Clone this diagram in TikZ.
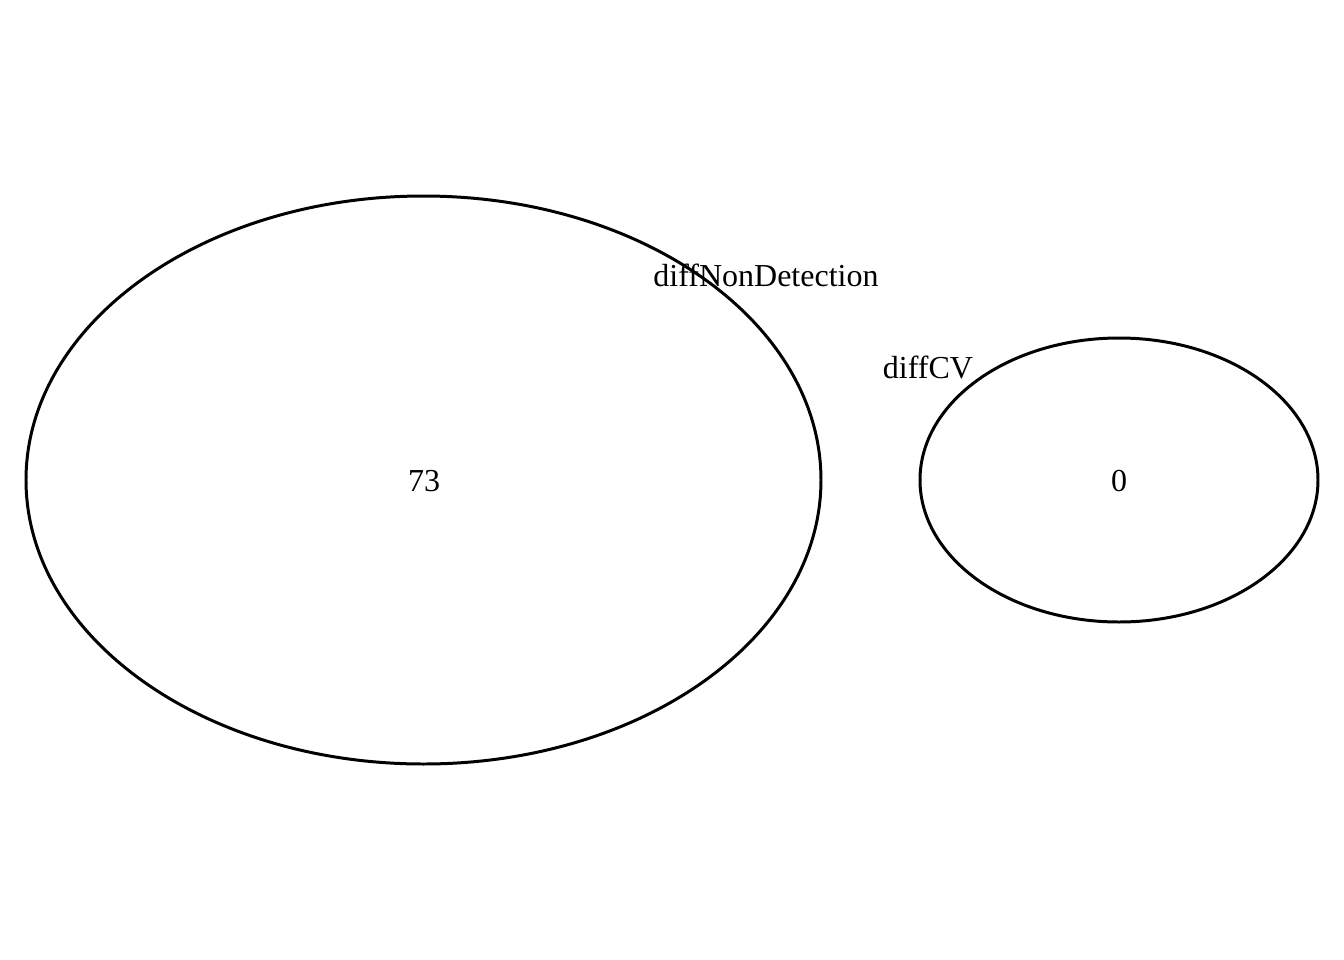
\documentclass[tikz,border=0pt]{standalone}
\usepackage{fontspec}
\setmainfont{Liberation Serif}
\begin{document}
\begin{tikzpicture}[x=0.01cm,y=-0.01cm,line width=0.85pt,
    setlabel/.style={inner sep=0pt,font=\fontsize{9.1}{11}\selectfont}]
    \useasboundingbox (0,0) rectangle (1344,960);
    % sets
    \draw (423.5,480) ellipse[x radius=397.5, y radius=284];
    \draw (1119,480) ellipse[x radius=199, y radius=142];
    % counts
    \node[setlabel] (nNonDet) at (424,481) {73};
    \node[setlabel] (nCV) at (1119,481) {0};
    % set names
    \node[setlabel] (nameNonDet) at (766,275) {diffNonDetection};
    \node[setlabel] (nameCV) at (928,367) {diffCV};
\end{tikzpicture}
\end{document}
